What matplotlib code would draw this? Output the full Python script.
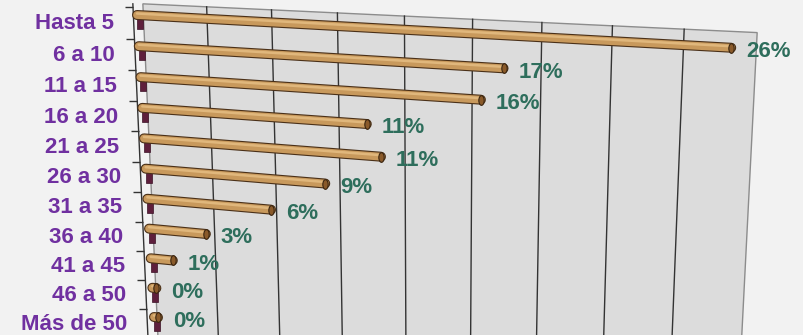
"""
Distribución por tramos - barras horizontales en perspectiva (estilo Excel 3D)
"""

import numpy as np
import matplotlib
matplotlib.use('Agg')
import matplotlib.pyplot as plt
from matplotlib.transforms import Transform, Affine2D
from matplotlib.markers import MarkerStyle

# Datos
categories = ['Hasta 5', '6 a 10', '11 a 15', '16 a 20', '21 a 25', '26 a 30',
              '31 a 35', '36 a 40', '41 a 45', '46 a 50', 'Más de 50']
values = [26.1, 16.7, 15.7, 10.6, 11.2, 8.6, 6.0, 2.8, 1.1, 0.2, 0.2]
x_max = 27
x_step = 3


class Homography(Transform):
    """Proyeccion en perspectiva de un plano (valor, fila) a pixeles."""
    input_dims = 2
    output_dims = 2

    def __init__(self, src, dst):
        super().__init__()
        A, b = [], []
        for (x, y), (u, v) in zip(src, dst):
            A.append([x, y, 1, 0, 0, 0, -u * x, -u * y])
            b.append(u)
            A.append([0, 0, 0, x, y, 1, -v * x, -v * y])
            b.append(v)
        h = np.linalg.solve(np.array(A, float), np.array(b, float))
        self.m = np.append(h, 1).reshape(3, 3)

    def transform_non_affine(self, values):
        values = np.asarray(values, float)
        pts = np.column_stack([values, np.ones(len(values))]) @ self.m.T
        return pts[:, :2] / pts[:, 2:3]


n = len(categories)
W, H = 804, 335
fig = plt.figure(figsize=(W / 100, H / 100), dpi=100, facecolor='#f2f2f2')
ax = fig.add_axes([0, 0, 1, 1])
ax.set_xlim(0, W)
ax.set_ylim(H, 0)
ax.axis('off')

# plano de las barras y plano de la pared del fondo
bar_plane = Homography([(0, 0), (x_max, 0), (0, 10), (x_max, 10)],
                       [(137, 15), (754, 49), (154, 317), (749, 382)])
wall_plane = Homography([(0, -0.5), (x_max, -0.5), (0, 10.5), (x_max, 10.5)],
                        [(143, 7), (757, 36), (158, 338), (739, 390)])
tb = bar_plane + ax.transData
tw = wall_plane + ax.transData

# pared
y_top, y_bot = -0.6, 11.2
wall = plt.Polygon([(0, y_top), (x_max, y_top), (x_max, y_bot), (0, y_bot)],
                   closed=True, facecolor='#dcdcdc', edgecolor='#8c8c8c',
                   linewidth=1.0, transform=tw, zorder=1)
ax.add_patch(wall)

# lineas de division verticales
for gx in np.arange(x_step, x_max, x_step):
    ax.plot([gx, gx], [y_top, y_bot], color='#333333', lw=1.0,
            transform=tw, zorder=2)

# eje vertical con marcas
axis_tr = tw + Affine2D().translate(-10, 0)
ax.plot([0, 0], [y_top, y_bot], color='#333333', lw=1.0, transform=axis_tr, zorder=2)
ax.plot(np.zeros(n + 1), np.arange(n + 1) - 0.5, linestyle='none',
        marker='_', markersize=6, markeredgewidth=1.0, color='#333333',
        transform=axis_tr + Affine2D().translate(-4, 0), zorder=2)

# etiquetas de categorias
for i, cat in enumerate(categories):
    ax.text(0, i, cat, transform=tw + Affine2D().translate(-30, -1),
            ha='right', va='center', fontsize=16, fontweight='bold',
            family=['Liberation Sans', 'DejaVu Sans'], color='#7030a0', zorder=5)

# pequeno bloque granate bajo el inicio de cada barra
maroon = MarkerStyle('s', transform=Affine2D().scale(0.65, 1.0))
ax.plot(np.zeros(n), np.arange(n), linestyle='none', marker=maroon,
        markersize=7, color='#5e1f3c', markeredgecolor='#3a1025',
        markeredgewidth=0.5,
        transform=tb + Affine2D().translate(3, -9), zorder=3)

# barras cilindricas
cap = MarkerStyle('o', transform=Affine2D().scale(0.55, 1.0))
for i, v in enumerate(values):
    xs, ys = [0, v], [i, i]
    ax.plot(xs, ys, color='#4a3018', lw=7.2, solid_capstyle='round',
            transform=tb, zorder=4)
    ax.plot(xs, ys, color='#c8995c', lw=5.6, solid_capstyle='round',
            transform=tb, zorder=4)
    ax.plot(xs, ys, color='#e0b77c', lw=1.8, solid_capstyle='round',
            transform=tb + Affine2D().translate(0, 1.5), zorder=4)
    ax.plot([v], [i], linestyle='none', marker=cap, markersize=7,
            color='#8a5a2a', markeredgecolor='#3a2510', markeredgewidth=0.8,
            transform=tb, zorder=4)
    ax.text(v, i, f'{v:.0f}%', transform=tb + Affine2D().translate(15, -4),
            ha='left', va='center', fontsize=16, fontweight='bold',
            family=['Liberation Sans', 'DejaVu Sans'], color='#2e6e5c', zorder=5)

fig.savefig('out.png', dpi=100, facecolor=fig.get_facecolor())
